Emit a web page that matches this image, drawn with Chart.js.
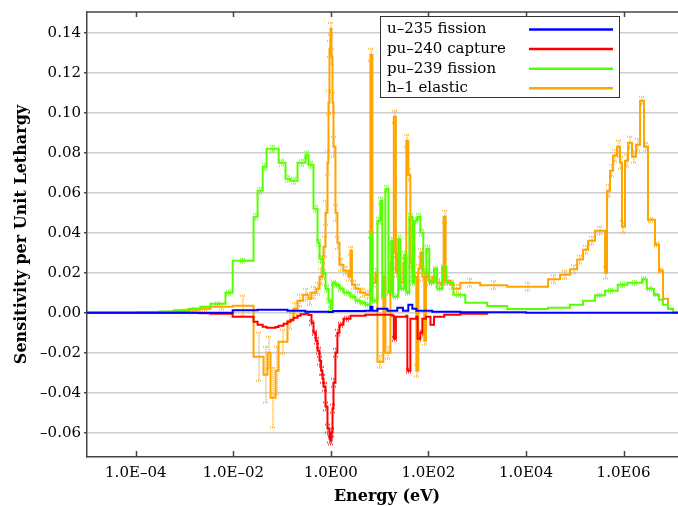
<!DOCTYPE html>
<html>
<head>
<meta charset="utf-8">
<script src="https://cdn.jsdelivr.net/npm/chart.js@4.4.1/dist/chart.umd.min.js"></script>
<style>
  html, body { margin: 0; padding: 0; background: #fff; overflow: hidden; }
  canvas { display: block; }
</style>
</head>
<body>
<canvas id="chart" width="690" height="506"></canvas>
<script>
// --- Data (group lower bounds in eV, sensitivity per unit lethargy) ---
const u235E = [1e-5, 0.0097, 0.0314, 0.129, 0.30, 0.9, 1.1, 5.1, 6.46, 7.1, 9.0, 12, 14.4, 23, 30, 38.7, 46.8, 56.5, 120, 450, 1e4, 2e7];
const u235S = [0, 0.0012, 0.0015, 0.001, 0.0005, 0.0003, 0.0008, 0.001, 0.003, 0.001, 0.002, 0.002, 0.001, 0.0025, 0.001, 0.004, 0.002, 0.001, 0.0005, 0.0002, 0, 0];

const pu240E = [1e-5, 2e-3, 3.4e-3, 0.0097, 0.026, 0.0314, 0.040, 0.048, 0.058, 0.0734, 0.0846, 0.107, 0.129, 0.149, 0.171, 0.207, 0.239, 0.302,
  0.347, 0.40, 0.44, 0.49, 0.532, 0.585, 0.63, 0.673, 0.706, 0.776, 0.852, 0.936, 0.98, 1.03, 1.08, 1.13, 1.24, 1.36, 1.5, 1.81, 2.52,
  5.1, 18.2, 19.5, 21.5, 35.2, 37, 42.6, 56.5, 60, 68.2, 75, 89, 110, 130, 211, 450, 1600];
const pu240S = [0, -0.0003, -0.0005, -0.002, -0.0045, -0.006, -0.007, -0.0075, -0.0075, -0.0072, -0.0065, -0.0055, -0.0045, -0.0035, -0.0025, -0.0015, -0.0008, -0.0005,
  -0.0012, -0.005, -0.010, -0.014, -0.019, -0.024, -0.029, -0.033, -0.037, -0.047, -0.058, -0.063, -0.064, -0.060, -0.048, -0.035, -0.020, -0.010, -0.006, -0.003, -0.0015,
  -0.001, -0.0015, -0.013, -0.002, -0.0015, -0.029, -0.003, -0.002, -0.013, -0.010, -0.003, -0.002, -0.006, -0.002, -0.001, -0.0005, 0];
const pu240Err = [0, 0, 0, 0.0005, 0.0005, 0.0005, 0.0005, 0.0005, 0.0005, 0.0005, 0.0005, 0.0005, 0.0005, 0.0005, 0.0005, 0.0005, 0.0005, 0.0005,
  0.0005, 0.001, 0.001, 0.0015, 0.0015, 0.002, 0.002, 0.002, 0.002, 0.002, 0.002, 0.002, 0.002, 0.002, 0.002, 0.002, 0.002, 0.0015, 0.001, 0.001, 0.0005,
  0.0003, 0.0003, 0.001, 0.0003, 0.0003, 0.001, 0.0003, 0.0003, 0.001, 0.001, 0.0003, 0.0003, 0.0005, 0.0003, 0.0002, 0.0002, 0];

const pu239E = [1e-5, 1e-4, 3e-4, 6e-4, 1.2e-3, 2.1e-3, 3.4e-3, 6.9e-3, 0.0097, 0.026, 0.0314, 0.040, 0.048, 0.085, 0.1175, 0.149, 0.207, 0.302, 0.347,
  0.44, 0.532, 0.585, 0.673, 0.776, 0.893, 0.98, 1.08, 1.24, 1.5, 1.81, 2.52, 3.19, 4.03, 5.1, 6.46, 7.1, 9.0, 10.35, 11.3, 13.1, 15.1, 17.3, 18.9,
  24, 26.5, 32, 35.2, 40.6, 46.8, 51.4, 59, 68.2, 78.6, 90.5, 104, 131, 151, 191, 231, 324, 569, 1600, 4120, 28400, 80000, 1.48e5, 2.61e5,
  4.18e5, 7.6e5, 1.2e6, 2.4e6, 3.0e6, 4.2e6, 5.3e6, 6.4e6, 8.2e6, 1.03e7, 2e7];
const pu239S = [0, 0.0002, 0.0006, 0.0012, 0.002, 0.003, 0.0045, 0.0099, 0.026, 0.048, 0.061, 0.073, 0.082, 0.075, 0.067, 0.066, 0.075, 0.079, 0.074,
  0.052, 0.035, 0.027, 0.020, 0.012, 0.006, 0.002, 0.015, 0.014, 0.012, 0.010, 0.008, 0.006, 0.005, 0.004, 0.039, 0.006, 0.046, 0.056, 0.008, 0.062, 0.010, 0.036, 0.008,
  0.037, 0.012, 0.029, 0.010, 0.048, 0.015, 0.046, 0.048, 0.040, 0.020, 0.032, 0.015, 0.022, 0.012, 0.023, 0.015, 0.009, 0.005, 0.0033, 0.0018, 0.0025, 0.004, 0.006, 0.0087,
  0.011, 0.014, 0.015, 0.0167, 0.012, 0.009, 0.0065, 0.004, 0.002, 0, 0];
const pu239Err = [0, 0.0001, 0.0002, 0.0003, 0.0004, 0.0005, 0.0007, 0.001, 0.001, 0.0015, 0.0015, 0.0015, 0.0015, 0.0015, 0.0015, 0.0015, 0.0015, 0.0015, 0.0015,
  0.0015, 0.0015, 0.0015, 0.0015, 0.0015, 0.001, 0.001, 0.001, 0.001, 0.001, 0.001, 0.001, 0.001, 0.001, 0.001, 0.0015, 0.001, 0.0015, 0.0015, 0.001, 0.0015, 0.001, 0.0015, 0.001,
  0.0015, 0.001, 0.0015, 0.001, 0.0015, 0.001, 0.0015, 0.0015, 0.0015, 0.001, 0.0015, 0.001, 0.001, 0.001, 0.001, 0.001, 0.001, 0.0005, 0.0005, 0.0005, 0.0005, 0.0005, 0.0005, 0.0007,
  0.001, 0.001, 0.001, 0.001, 0.001, 0.0007, 0.0005, 0.0005, 0.0003, 0, 0];

const h1E = [1e-5, 1e-4, 4e-4, 8e-4, 1.3e-3, 2.1e-3, 3.4e-3, 0.0097, 0.026, 0.0417, 0.0503, 0.058, 0.0734, 0.0846, 0.129, 0.171, 0.207, 0.27, 0.347, 0.40,
  0.50, 0.585, 0.673, 0.706, 0.776, 0.852, 0.893, 0.936, 0.98, 1.03, 1.08, 1.13, 1.24, 1.36, 1.5, 1.81, 2.3, 2.52, 2.7, 3.19, 4.03, 5.1, 6.46, 7.1,
  8.2, 9.0, 11.9, 13.1, 16.6, 18.2, 19.5, 21.5, 23.1, 26.5, 30.6, 35.2, 38.7, 42.6, 46.8, 51.4, 56.5, 62.1, 68.2, 75, 82, 89, 99.5, 120, 145, 175,
  205, 225, 281, 324, 450, 1150, 4120, 28400, 50000, 80000, 1.12e5, 1.48e5, 1.88e5, 2.61e5, 4.18e5, 4.59e5, 5.29e5, 6.09e5, 7.36e5, 8.47e5,
  9.31e5, 1.07e6, 1.24e6, 1.49e6, 1.8e6, 2.18e6, 2.63e6, 3.17e6, 4.41e6, 5.33e6, 6.44e6, 8.15e6, 1.03e7, 2e7];
const h1S = [0, 0.0001, 0.0005, 0.001, 0.0015, 0.002, 0.003, 0.0035, -0.022, -0.031, -0.020, -0.0425, -0.029, -0.0145, -0.004, 0.002, 0.006, 0.009, 0.007, 0.010,
  0.012, 0.018, 0.021, 0.033, 0.050, 0.075, 0.105, 0.132, 0.142, 0.128, 0.105, 0.083, 0.050, 0.035, 0.024, 0.021, 0.018, 0.031, 0.014, 0.012, 0.010, 0.009, 0.129, 0.015,
  0.020, -0.0245, 0.018, -0.020, 0.025, 0.030, 0.098, 0.020, 0.030, 0.015, 0.025, 0.086, 0.069, 0.025, 0.020, 0.018, -0.029, 0.022, 0.030, 0.018, -0.014, 0.020, 0.016, 0.018, 0.015, 0.014,
  0.048, 0.016, 0.014, 0.012, 0.015, 0.0137, 0.013, 0.0167, 0.019, 0.0217, 0.0266, 0.0315, 0.036, 0.041, 0.020, 0.061, 0.071, 0.0785, 0.083, 0.075,
  0.043, 0.076, 0.085, 0.078, 0.084, 0.106, 0.083, 0.0465, 0.034, 0.021, 0.007, 0.002, 0.0003, 0];
const h1Err = [0, 0.0003, 0.0005, 0.0006, 0.0008, 0.001, 0.0015, 0.005, 0.012, 0.014, 0.008, 0.015, 0.012, 0.006, 0.004, 0.003, 0.003, 0.003, 0.003, 0.003,
  0.003, 0.004, 0.004, 0.005, 0.006, 0.006, 0.006, 0.004, 0.003, 0.004, 0.005, 0.005, 0.004, 0.003, 0.003, 0.002, 0.002, 0.002, 0.002, 0.002, 0.002, 0.002, 0.003, 0.002,
  0.002, 0.003, 0.002, 0.003, 0.002, 0.002, 0.003, 0.002, 0.002, 0.002, 0.002, 0.003, 0.003, 0.002, 0.002, 0.002, 0.003, 0.002, 0.002, 0.002, 0.002, 0.002, 0.002, 0.002, 0.002, 0.002,
  0.003, 0.002, 0.002, 0.002, 0.002, 0.002, 0.002, 0.002, 0.002, 0.002, 0.002, 0.002, 0.002, 0.002, 0.003, 0.003, 0.003, 0.003, 0.003, 0.003,
  0.003, 0.003, 0.003, 0.003, 0.003, 0.002, 0.002, 0.001, 0.001, 0.001, 0, 0, 0, 0];

const xTickValues = [1e-4, 1e-2, 1, 1e2, 1e4, 1e6];
const yTickValues = [-0.06, -0.04, -0.02, 0, 0.02, 0.04, 0.06, 0.08, 0.10, 0.12, 0.14];
const seriesNames = ['u\u2013235 fission', 'pu\u2013240 capture', 'pu\u2013239 fission', 'h\u20131 elastic'];
const seriesColors = ['#0000ff', '#ff0000', '#55ff00', '#ffa500'];

const FONT = "'DejaVu Serif', serif";
Chart.defaults.font.family = FONT;
Chart.defaults.color = '#000';

function toPoints(energies, values) {
  return energies.map((e, i) => ({ x: e, y: values[i] }));
}

function makeDataset(i, energies, values, errors) {
  return {
    label: seriesNames[i],
    data: toPoints(energies, values),
    errors: errors,
    borderColor: seriesColors[i],
    backgroundColor: seriesColors[i],
    borderWidth: 2,
    pointRadius: 0,
    stepped: true,
    fill: false
  };
}

// dotted error bars at the middle (log) of each group
const errorBars = {
  id: 'errorBars',
  beforeDatasetsDraw(chart) {
    const { ctx, chartArea, scales: { x, y } } = chart;
    ctx.save();
    ctx.beginPath();
    ctx.rect(chartArea.left, chartArea.top, chartArea.right - chartArea.left, chartArea.bottom - chartArea.top);
    ctx.clip();
    ctx.lineWidth = 2;
    ctx.setLineDash([1, 1]);
    ctx.globalAlpha = 0.7;
    chart.data.datasets.forEach(ds => {
      if (!ds.errors) return;
      ctx.strokeStyle = ds.borderColor;
      const pts = ds.data;
      for (let j = 0; j < pts.length - 1; j++) {
        const err = ds.errors[j];
        if (!err) continue;
        const xm = Math.sqrt(pts[j].x * pts[j + 1].x);
        const px = Math.round(x.getPixelForValue(xm));
        const top = y.getPixelForValue(pts[j].y + err);
        const bot = y.getPixelForValue(pts[j].y - err);
        if (bot - top < 2) continue;
        ctx.beginPath();
        ctx.moveTo(px, top); ctx.lineTo(px, bot);
        ctx.moveTo(px - 3, top); ctx.lineTo(px + 3, top);
        ctx.moveTo(px - 3, bot); ctx.lineTo(px + 3, bot);
        ctx.stroke();
      }
    });
    ctx.restore();
  }
};

// inside tick marks, top frame line and the boxed legend
const frameAndLegend = {
  id: 'frameAndLegend',
  afterDraw(chart) {
    const { ctx, chartArea, scales: { x } } = chart;
    ctx.save();
    ctx.strokeStyle = '#444';
    ctx.lineWidth = 1.5;
    ctx.beginPath();
    ctx.moveTo(chartArea.left, chartArea.top);
    ctx.lineTo(chartArea.right, chartArea.top);
    xTickValues.forEach(v => {
      const px = Math.round(x.getPixelForValue(v)) + 0.5;
      ctx.moveTo(px, chartArea.bottom); ctx.lineTo(px, chartArea.bottom - 6);
      ctx.moveTo(px, chartArea.top); ctx.lineTo(px, chartArea.top + 5);
    });
    ctx.stroke();

    const lx = 380, ly = 16, lw = 239, lh = 81;
    ctx.fillStyle = '#fff';
    ctx.fillRect(lx, ly, lw, lh);
    ctx.strokeStyle = '#333';
    ctx.lineWidth = 1;
    ctx.strokeRect(lx + 0.5, ly + 0.5, lw, lh);
    ctx.font = '15px ' + FONT;
    ctx.textBaseline = 'middle';
    ctx.textAlign = 'left';
    seriesNames.forEach((name, i) => {
      const ry = ly + 13.5 + i * 19.6;
      ctx.fillStyle = '#000';
      ctx.fillText(name, lx + 7, ry);
      ctx.strokeStyle = seriesColors[i];
      ctx.lineWidth = 2.5;
      ctx.beginPath();
      ctx.moveTo(lx + 149, ry); ctx.lineTo(lx + 233, ry);
      ctx.stroke();
    });
    ctx.restore();
  }
};

new Chart(document.getElementById('chart'), {
  type: 'line',
  data: {
    datasets: [
      makeDataset(0, u235E, u235S, null),
      makeDataset(1, pu240E, pu240S, pu240Err),
      makeDataset(2, pu239E, pu239S, pu239Err),
      makeDataset(3, h1E, h1S, h1Err)
    ]
  },
  options: {
    responsive: false,
    animation: false,
    devicePixelRatio: 1,
    layout: { padding: { top: 7, right: 3, left: 0, bottom: 0 } },
    plugins: { legend: { display: false }, tooltip: { enabled: false } },
    scales: {
      x: {
        type: 'logarithmic',
        min: 1e-5,
        max: 2e7,
        afterBuildTicks: s => { s.ticks = xTickValues.map(v => ({ value: v })); },
        afterFit: s => { s.height = 49; },
        ticks: {
          font: { size: 15 },
          padding: 7,
          maxRotation: 0,
          autoSkip: false,
          callback: v => {
            const exp = Math.round(Math.log10(v));
            const mag = String(Math.abs(exp)).padStart(2, '0');
            return '1.0E' + (exp < 0 ? '\u2013' : '') + mag;
          }
        },
        grid: { display: true, drawOnChartArea: false, drawTicks: false },
        border: { display: true, color: '#444', width: 1.5 },
        title: { display: true, text: 'Energy (eV)', font: { size: 16, weight: 'bold' }, padding: { top: 0, bottom: 0 } }
      },
      y: {
        min: -0.0722,
        max: 0.1504,
        afterBuildTicks: s => { s.ticks = yTickValues.map(v => ({ value: v })); },
        afterFit: s => { s.width = 87; },
        ticks: {
          font: { size: 15 },
          padding: 3,
          callback: v => (v < -1e-9 ? '\u2013' : '') + Math.abs(v).toFixed(2)
        },
        grid: { color: '#cccccc', lineWidth: 1.5, tickLength: 3, tickColor: '#444' },
        border: { display: true, color: '#444', width: 1.5 },
        title: { display: true, text: 'Sensitivity per Unit Lethargy', font: { size: 16, weight: 'bold' }, padding: { top: 12, bottom: 0 } }
      }
    }
  },
  plugins: [errorBars, frameAndLegend]
});
</script>
</body>
</html>
